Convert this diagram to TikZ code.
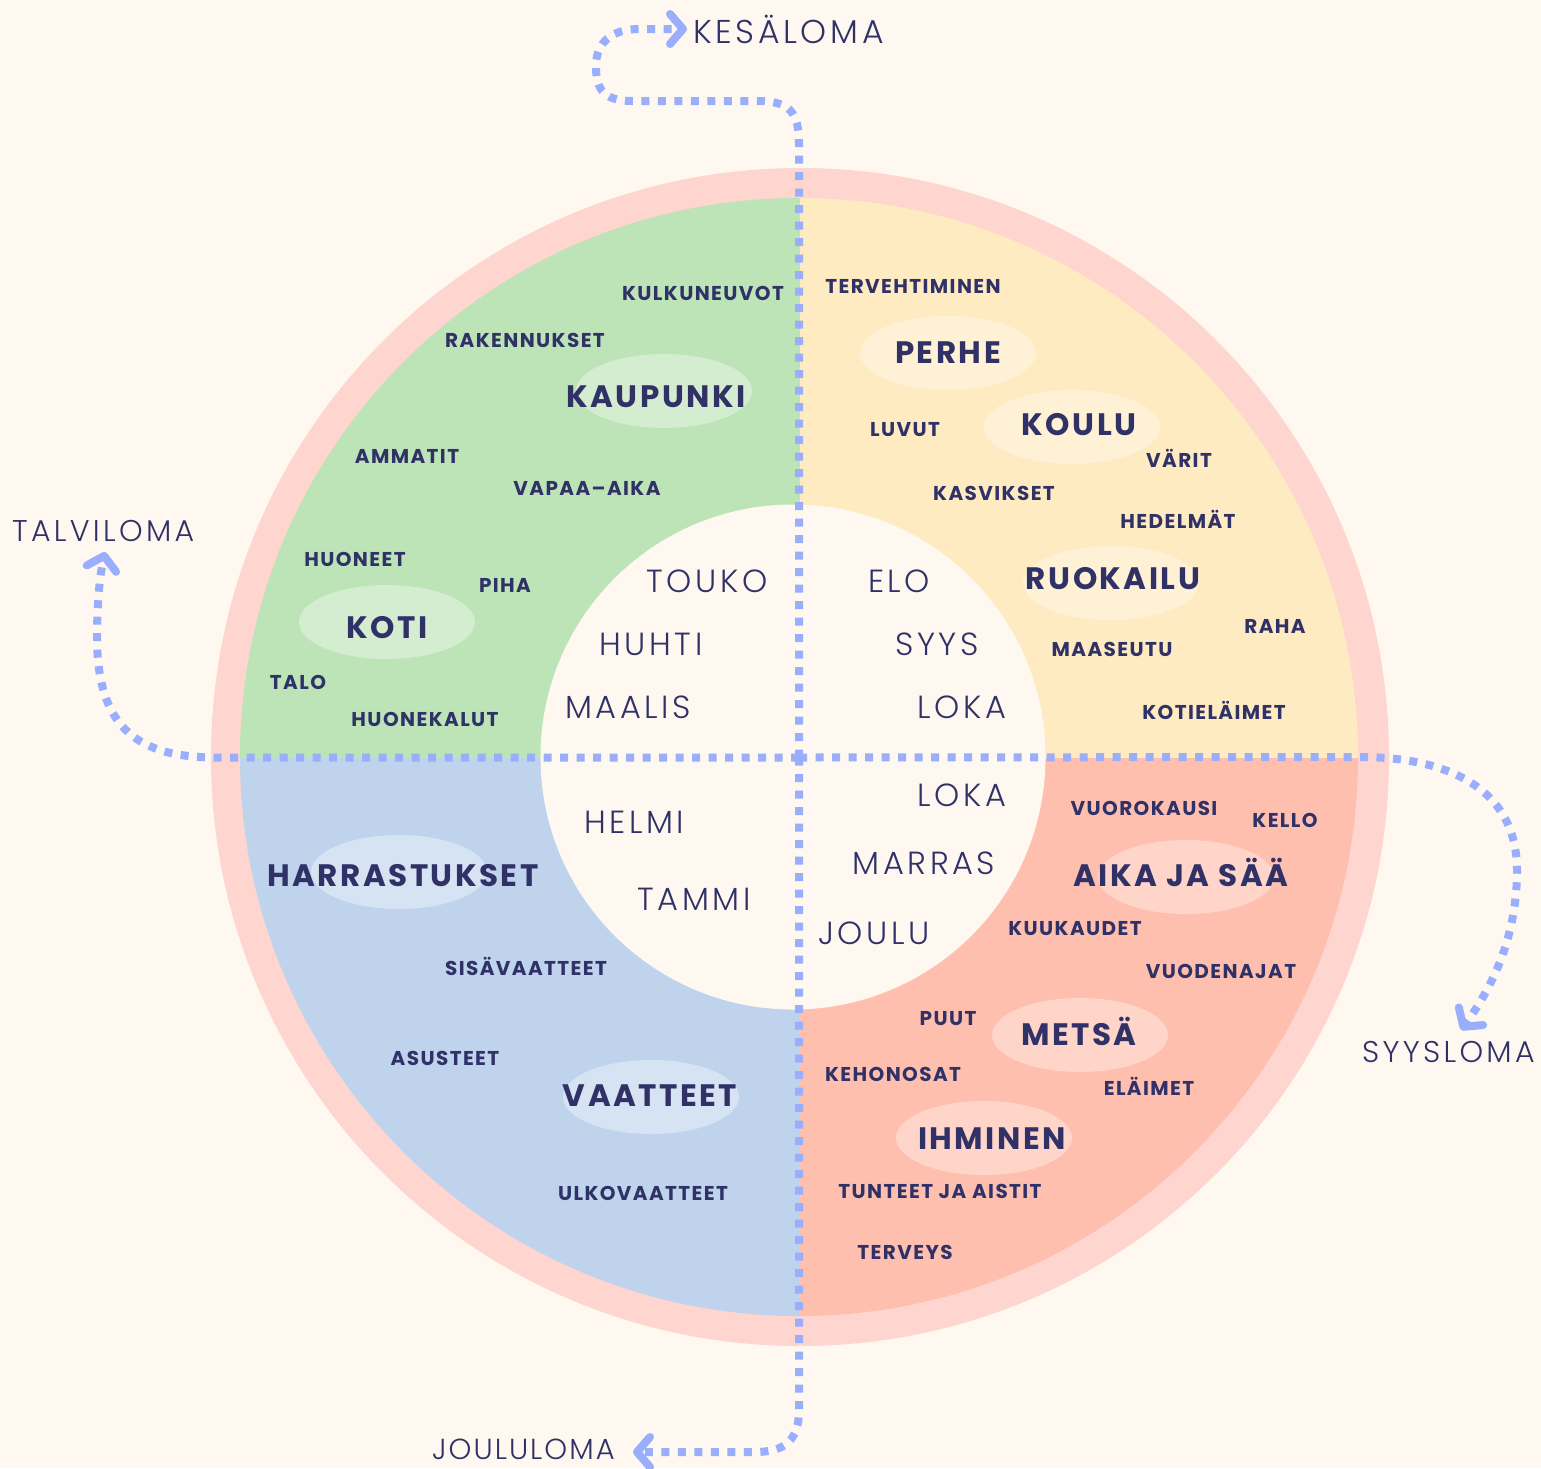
\documentclass[tikz,border=0pt]{standalone}
\usepackage{fontspec}
\usetikzlibrary{arrows.meta}
\newfontfamily\catfont{Poppins}[LetterSpace=7]
\newfontfamily\bigcatfont{Poppins}[LetterSpace=8]
\newfontfamily\monfont{Poppins Light}[LetterSpace=11]
\newfontfamily\holfont{Poppins Light}[LetterSpace=11]
\newfontfamily\holfontb{Poppins Light}[LetterSpace=7]
\definecolor{bgc}{HTML}{FEF8F1}
\definecolor{ringc}{HTML}{FED5CF}
\definecolor{greenc}{HTML}{BDE4B7}
\definecolor{yellowc}{HTML}{FFEBC1}
\definecolor{bluec}{HTML}{BFD4EC}
\definecolor{salmonc}{HTML}{FFBFAE}
\definecolor{txt}{HTML}{2F3167}
\definecolor{dotc}{HTML}{9AAEFE}
\begin{document}
\begin{tikzpicture}[x=1pt,y=-1pt,
  cat/.style={font=\catfont\bfseries\fontsize{20}{20}\selectfont, text=txt, inner sep=0pt, anchor=base},
  bigcat/.style={font=\bigcatfont\bfseries\fontsize{31}{31}\selectfont, text=txt, inner sep=0pt, anchor=base},
  month/.style={font=\monfont\fontsize{32}{32}\selectfont, text=txt, inner sep=0pt, anchor=base},
  holiday/.style={font=\holfont\fontsize{30}{30}\selectfont, text=txt, inner sep=0pt, anchor=base west},
  hl/.style={fill=white, fill opacity=0.35, draw=none},
  dots/.style={draw=dotc, line width=8pt, dash pattern=on 8pt off 8.5pt,
    -{Straight Barb[length=13pt,width=30pt,line cap=round,line join=round]}},
]
\useasboundingbox (0,0) rectangle (1541,1468);
\fill[bgc] (0,0) rectangle (1541,1468);
% rings
\fill[ringc] (800,757) circle[radius=589pt];
\begin{scope}
  \clip (799,757) circle[radius=559pt];
  \fill[greenc] (200,150) rectangle (800,758);
  \fill[yellowc] (800,150) rectangle (1400,758);
  \fill[bluec] (200,758) rectangle (800,1360);
  \fill[salmonc] (800,758) rectangle (1400,1360);
\end{scope}
\fill[bgc] (793,757) circle[radius=252.5pt];
% highlight ellipses
\foreach \p in {(664,391),(387,622),(948,353),(1072,427),(1111,583),(399,872),(651,1097),(1186,877),(1080,1035),(984,1138)}
  \fill[hl] \p ellipse[x radius=88pt, y radius=37pt];
% green quadrant
\node[cat] (kulkuneuvot) at (703,300) {KULKUNEUVOT};
\node[cat] (rakennukset) at (525,347) {RAKENNUKSET};
\node[bigcat] (kaupunki) at (656,407) {KAUPUNKI};
\node[cat] (ammatit) at (407,463) {AMMATIT};
\node[cat] (vapaa) at (587,495) {VAPAA–AIKA};
\node[cat] (huoneet) at (355,566) {HUONEET};
\node[cat] (piha) at (505,592) {PIHA};
\node[bigcat] (koti) at (387,638) {KOTI};
\node[cat] (talo) at (298,689) {TALO};
\node[cat] (huonekalut) at (425,726) {HUONEKALUT};
% yellow quadrant
\node[cat] (tervehtiminen) at (913,293) {TERVEHTIMINEN};
\node[bigcat] (perhe) at (948,363) {PERHE};
\node[cat] (luvut) at (905,436) {LUVUT};
\node[bigcat] (koulu) at (1079,435) {KOULU};
\node[cat] (varit) at (1179,467) {VÄRIT};
\node[cat] (kasvikset) at (994,500) {KASVIKSET};
\node[cat] (hedelmat) at (1178,528) {HEDELMÄT};
\node[bigcat] (ruokailu) at (1113,589) {RUOKAILU};
\node[cat] (raha) at (1275,633) {RAHA};
\node[cat] (maaseutu) at (1112,656) {MAASEUTU};
\node[cat] (kotielaimet) at (1214,719) {KOTIELÄIMET};
% blue quadrant
\node[bigcat] (harrastukset) at (403,886) {HARRASTUKSET};
\node[cat] (sisavaatteet) at (526,975) {SISÄVAATTEET};
\node[cat] (asusteet) at (445,1065) {ASUSTEET};
\node[bigcat] (vaatteet) at (650,1106) {VAATTEET};
\node[cat] (ulkovaatteet) at (643,1200) {ULKOVAATTEET};
% salmon quadrant
\node[cat] (vuorokausi) at (1144,815) {VUOROKAUSI};
\node[cat] (kello) at (1285,827) {KELLO};
\node[bigcat] (aika) at (1181,886) {AIKA JA SÄÄ};
\node[cat] (kuukaudet) at (1075,935) {KUUKAUDET};
\node[cat] (vuodenajat) at (1221,978) {VUODENAJAT};
\node[cat] (puut) at (948,1025) {PUUT};
\node[bigcat] (metsa) at (1079,1045) {METSÄ};
\node[cat] (kehonosat) at (893,1081) {KEHONOSAT};
\node[cat] (elaimet) at (1149,1095) {ELÄIMET};
\node[bigcat] (ihminen) at (992,1149) {IHMINEN};
\node[cat] (tunteet) at (940,1198) {TUNTEET JA AISTIT};
\node[cat] (terveys) at (905,1259) {TERVEYS};
% months
\node[month] (touko) at (707,592) {TOUKO};
\node[month] (huhti) at (651,655) {HUHTI};
\node[month] (maalis) at (628,718) {MAALIS};
\node[month] (elo) at (899,592) {ELO};
\node[month] (syys) at (937,655) {SYYS};
\node[month] (loka) at (962,718) {LOKA};
\node[month] (lokab) at (962,806) {LOKA};
\node[month] (marras) at (924,874) {MARRAS};
\node[month] (joulu) at (874,944) {JOULU};
\node[month] (helmi) at (634,833) {HELMI};
\node[month] (tammi) at (694,910) {TAMMI};
% holidays
\node[holiday, font=\holfont\fontsize{33}{33}\selectfont] (kesaloma) at (693,43) {KESÄLOMA};
\node[holiday] (talviloma) at (12,541) {TALVILOMA};
\node[holiday] (syysloma) at (1362,1062) {SYYSLOMA};
\node[holiday, font=\holfontb\fontsize{29}{29}\selectfont] (jouluploma) at (432,1459) {JOULULOMA};
% connectors
\coordinate (c) at (799,757.5);
\coordinate (kesTip) at (687,29);
\coordinate (talTip) at (105,552);
\coordinate (syyTip) at (1461,1030);
\coordinate (jouTip) at (633,1452);
\draw[dots] (c) -- (799,145) .. controls (799,112) and (790,101) .. (757,101) -- (632,101) .. controls (600,101) and (596,85) .. (596,66) .. controls (596,42) and (612,29) .. (640,29) -- (kesTip);
\draw[dots] (c) -- (215,757.5) .. controls (140,757) and (98,730) .. (97,640) .. controls (97,600) and (100,575) .. (talTip);
\draw[dots] (c) -- (1360,757) .. controls (1450,757) and (1517,790) .. (1517,870) .. controls (1517,940) and (1490,990) .. (syyTip);
\draw[dots] (c) -- (799,1410) .. controls (799,1440) and (785,1452) .. (755,1452) -- (jouTip);
\end{tikzpicture}
\end{document}
